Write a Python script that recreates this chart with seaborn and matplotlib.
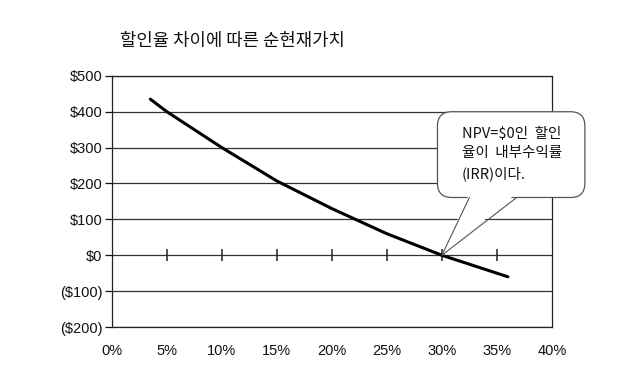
import matplotlib
matplotlib.use("Agg")
import matplotlib.pyplot as plt
from matplotlib.patches import FancyBboxPatch, Polygon
import seaborn as sns
import pandas as pd

# data
rates = [3.5, 5, 10, 15, 20, 25, 30, 35, 36]
npv = [435, 400, 300, 207, 130, 60, 0, -50, -60]
x_ticks = [0, 5, 10, 15, 20, 25, 30, 35, 40]
x_labels = ["0%", "5%", "10%", "15%", "20%", "25%", "30%", "35%", "40%"]
y_ticks = [-200, -100, 0, 100, 200, 300, 400, 500]
y_labels = ["($200)", "($100)", "$0", "$100", "$200", "$300", "$400", "$500"]
title = "할인율 차이에 따른 순현재가치"
note = "NPV=\\$0인  할인\n율이  내부수익률\n(IRR)이다."
irr = (30, 0)

sns.set_theme(style="white")
plt.rcParams["font.family"] = ["Liberation Sans", "Noto Sans CJK KR", "DejaVu Sans"]

df = pd.DataFrame({"rate": rates, "npv": npv})

fig = plt.figure(figsize=(6.25, 3.87), dpi=100)
ax = fig.add_axes([0.179, 0.155, 0.704, 0.649])

for yv in y_ticks:
    ax.axhline(yv, color="#333333", lw=0.9, zorder=1)

sns.lineplot(data=df, x="rate", y="npv", color="black", lw=2.2, ax=ax, zorder=3)

# tick marks on the zero line
ax.plot(x_ticks[1:-1], [0] * (len(x_ticks) - 2), ls="none", marker="|",
        ms=8, mew=1.1, color="#222222", zorder=2)

ax.set_xlim(0, 40)
ax.set_ylim(-200, 500)
ax.set_xticks(x_ticks)
ax.set_xticklabels(x_labels, fontsize=10.5)
ax.set_yticks(y_ticks)
ax.set_yticklabels(y_labels, fontsize=10.5)
ax.tick_params(axis="x", length=0, pad=12, colors="#111111")
ax.tick_params(axis="y", length=5, width=0.9, direction="out", left=True,
               colors="#111111", pad=2)
ax.set_xlabel("")
ax.set_ylabel("")
for s in ax.spines.values():
    s.set_color("#222222")
    s.set_linewidth(0.9)

fig.text(0.192, 0.895, title, fontsize=12.8, family=["Noto Sans CJK KR", "DejaVu Sans"],
         color="#111111", ha="left", va="center")

# speech-bubble callout
bx0, bx1, by0, by1 = 29.6, 43.0, 161, 400
aspect = (700 / 251) / (40 / 440)
box = FancyBboxPatch((bx0, by0), bx1 - bx0, by1 - by0,
                     boxstyle="round,pad=0,rounding_size=1.3", mutation_aspect=aspect,
                     fc="white", ec="#555555", lw=0.9, zorder=5, clip_on=False)
ax.add_patch(box)
base_l, base_r = 32.5, 36.8
wedge = Polygon([irr, (base_l, by0 + 12), (base_r, by0 + 12)], closed=True,
                fc="white", ec="none", zorder=6, clip_on=False)
ax.add_patch(wedge)
ax.plot([base_l, irr[0], base_r], [by0, irr[1], by0], color="#555555", lw=0.8,
        zorder=6, clip_on=False)
ax.text(31.8, 283, note, ha="left", va="center", fontsize=10.5,
        family=["Noto Sans CJK KR", "DejaVu Sans"], color="#111111",
        linespacing=1.5, zorder=7, clip_on=False)

fig.savefig("out.png", dpi=100)
